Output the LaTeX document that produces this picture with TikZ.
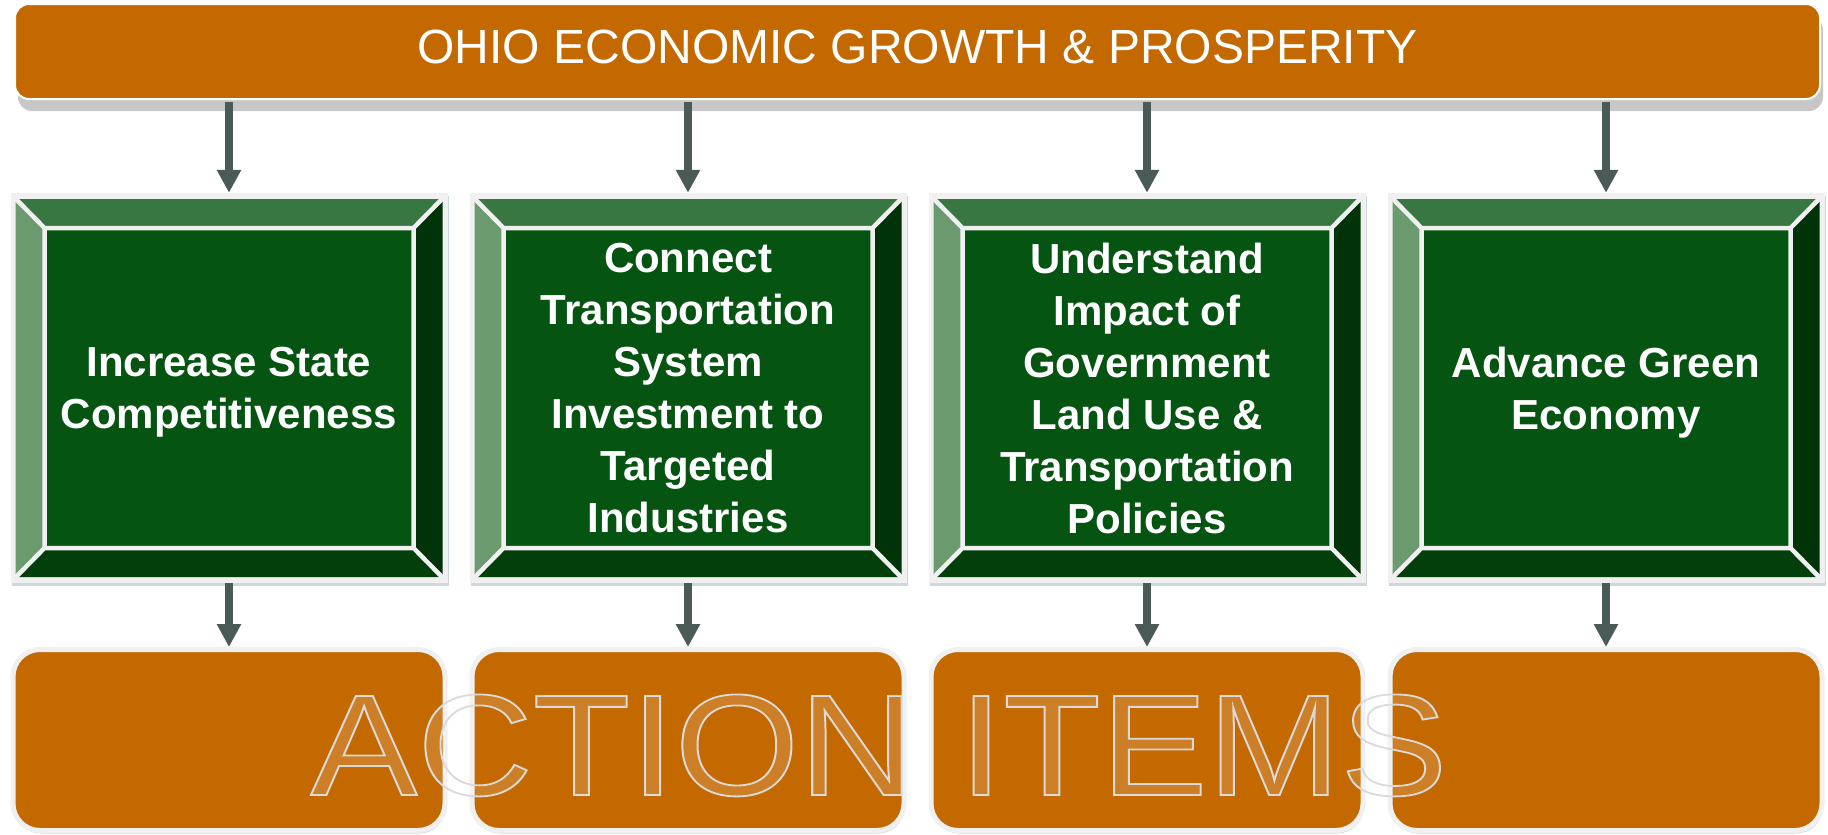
\documentclass[tikz,border=0pt]{standalone}
\usepackage{fontspec}
\setmainfont{Liberation Sans}
\usepackage{xcolor}
\usetikzlibrary{shadows,arrows.meta}

\definecolor{ohioorange}{HTML}{C46900}
\definecolor{arrowgray}{HTML}{4A5A56}
\definecolor{framewhite}{HTML}{F0F0F0}
\definecolor{greenmid}{HTML}{055412}
\definecolor{greentop}{HTML}{387642}
\definecolor{greenleft}{HTML}{6A9A6E}
\definecolor{greenright}{HTML}{013308}
\definecolor{greenbottom}{HTML}{023F0B}
\definecolor{shadowblue}{HTML}{8FA8B2}
\definecolor{outlinegray}{HTML}{DADADA}

% outlined text (stroke only)
\newcommand\outlined[1]{\special{pdf:literal direct 1 Tr 1.8 w}#1\special{pdf:literal direct 0 Tr}}

\begin{document}
\begin{tikzpicture}[x=1pt,y=-1pt,
    flow/.style={draw=arrowgray,line width=7.5pt,-{Triangle[width=23pt,length=23pt]}},
    goal/.style={minimum width=437pt,minimum height=390pt,inner sep=0pt,text=white,
      align=center,text depth=0pt,font=\fontsize{42}{52}\selectfont\bfseries},
    action/.style={fill=ohioorange,draw=framewhite,line width=5pt,rounded corners=27pt,
      minimum width=432pt,minimum height=181pt,inner sep=0pt,
      drop shadow={shadow xshift=1pt,shadow yshift=-3pt,fill=shadowblue,opacity=0.45}},
    bigword/.style={anchor=base,inner sep=0pt,font=\fontsize{144}{144}\selectfont}]
  \useasboundingbox (0,0) rectangle (1828,835);

  % title bar
  \node (title) [fill=ohioorange,draw=white,line width=2pt,rounded corners=14pt,
    minimum width=1805pt,minimum height=95pt,text=white,text depth=10pt,
    font=\fontsize{48}{58}\selectfont,
    drop shadow={shadow xshift=3pt,shadow yshift=-12pt,fill=black!22,opacity=1}]
    at (917.5,51.5) {OHIO ECONOMIC GROWTH \& PROSPERITY};

  % green bevelled boxes
  \foreach \i/\x/\txt in {1/229/{Increase State\\Competitiveness},
      2/688/{Connect\\Transportation\\System\\Investment to\\Targeted\\Industries},
      3/1147/{Understand\\Impact of\\Government\\Land Use \&\\Transportation\\Policies},
      4/1606/{Advance Green\\Economy}} {
    \fill[framewhite,drop shadow={shadow xshift=1pt,shadow yshift=-3pt,fill=shadowblue,opacity=0.45}]
      (\x-218.5,193) rectangle (\x+218.5,583);
    \fill[greentop] (\x-213.5,199) -- (\x+213.5,199) -- (\x+184.5,228) -- (\x-184.5,228) -- cycle;
    \fill[greenbottom] (\x-213.5,577) -- (\x+213.5,577) -- (\x+184.5,548) -- (\x-184.5,548) -- cycle;
    \fill[greenleft] (\x-213.5,199) -- (\x-184.5,228) -- (\x-184.5,548) -- (\x-213.5,577) -- cycle;
    \fill[greenright] (\x+213.5,199) -- (\x+184.5,228) -- (\x+184.5,548) -- (\x+213.5,577) -- cycle;
    \fill[greenmid] (\x-184.5,228) rectangle (\x+184.5,548);
    \draw[framewhite,line width=4.5pt]
      (\x-184.5,228) rectangle (\x+184.5,548)
      (\x-216,196) -- (\x-184.5,228) (\x+216,196) -- (\x+184.5,228)
      (\x-216,580) -- (\x-184.5,548) (\x+216,580) -- (\x+184.5,548);
    \node[goal] (g\i) at (\x,388) {\txt};
    \node[action] (a\i) at (\x,740) {};
  }

  % arrows
  \foreach \i in {1,...,4} {
    \draw[flow,shorten <=2pt] (title.south -| g\i.north) -- (g\i.north);
    \draw[flow] (g\i.south) -- (a\i.north);
  }

  % watermark text
  \node[bigword,text=white,text opacity=0.15] (actfill) at (879,795)
    {\scalebox{1.11}[1]{ACTION ITEMS}};
  \node[bigword,text=outlinegray] (actline) at (879,795)
    {\outlined{\scalebox{1.11}[1]{ACTION ITEMS}}};
\end{tikzpicture}
\end{document}
